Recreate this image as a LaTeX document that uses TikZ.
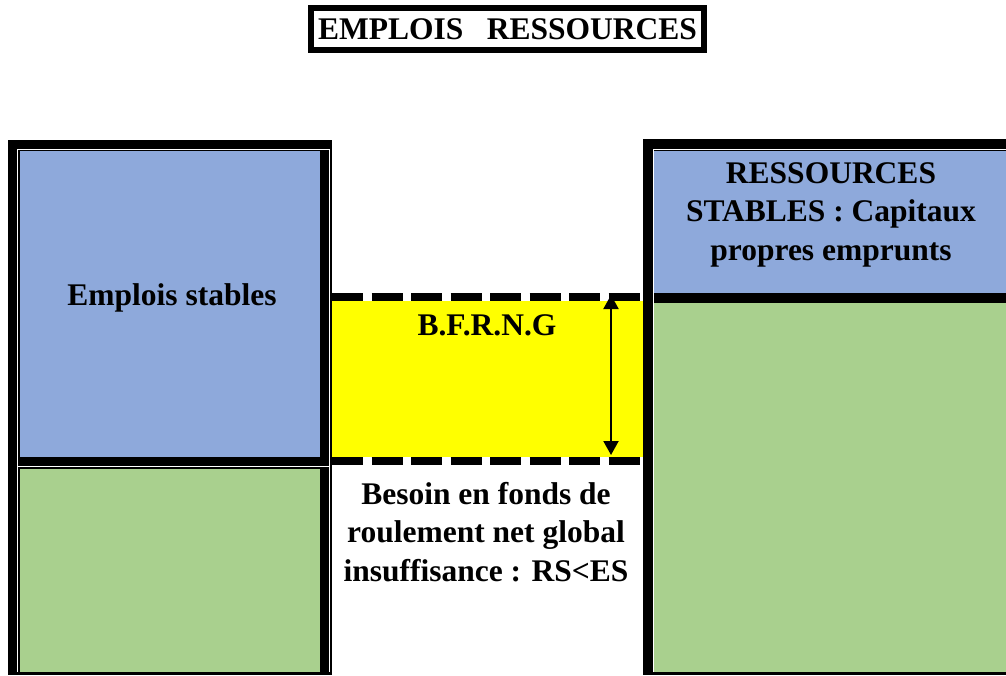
\documentclass[tikz,border=0pt]{standalone}
\usepackage{fontspec}
\setmainfont{Liberation Serif}
\usetikzlibrary{arrows.meta}

\definecolor{bleuES}{RGB}{142,169,219}
\definecolor{vertBF}{RGB}{169,208,142}
\definecolor{jaune}{RGB}{255,255,0}

\tikzset{
  texte/.style={font=\fontsize{31.5}{38.5}\selectfont\bfseries, align=center, inner sep=0pt},
  pointille/.style={line width=8pt, dash pattern=on 31pt off 8.5pt},
  liseret/.style={white, line width=1pt},
  fleche/.style={{Triangle[length=14pt,width=15pt]}-{Triangle[length=14pt,width=15pt]}, line width=2pt}
}

\begin{document}
\begin{tikzpicture}[x=1pt,y=-1pt]
            \useasboundingbox (0,0) rectangle (1006,675);

            % Titre encadre
            \node[texte, draw, line width=6pt, minimum width=393pt, minimum height=42pt] (titre) at (507.5,29) {EMPLOIS\ \ \ RESSOURCES};

            % Colonne des emplois
            \fill (8,140) rectangle (332,675);
            \draw[liseret] (17.5,672) -- (17.5,149.5) -- (329.5,149.5) -- (329.5,672);
            \draw[liseret] (17.5,466.5) -- (329.5,466.5);
            \fill[bleuES] (20,151) rectangle (320,457);
            \fill[vertBF] (20,469) rectangle (320,672);
            \node[texte, anchor=base] (emplois) at (172,305) {Emplois stables};

            % Colonne des ressources
            \fill (643,139) rectangle (1006,675);
            \draw[liseret] (653,672) -- (653,149.5) -- (1006,149.5);
            \fill[bleuES] (654,151) rectangle (1006,293);
            \fill[vertBF] (654,303) rectangle (1006,672);
            \node[texte] (ressources) at (831,214.5) {RESSOURCES\\STABLES : Capitaux\\propres emprunts};

            % Besoin en fonds de roulement (zone jaune)
            \fill[jaune] (332,300.5) rectangle (643,457);
            \draw[pointille] (332,296.5) -- (643,296.5);
            \draw[pointille] (332,461) -- (643,461);
            \node[texte, anchor=base] (bfrng) at (487,335) {B.F.R.N.G};

            % Hauteur du besoin
            \coordinate (haut) at (611,295);
            \coordinate (bas) at (611,455);
            \draw[fleche] (haut) -- (bas);

            \node[texte] (besoin) at (486,532) {Besoin en fonds de\\roulement net global\\insuffisance : RS<ES};
        \end{tikzpicture}
\end{document}
